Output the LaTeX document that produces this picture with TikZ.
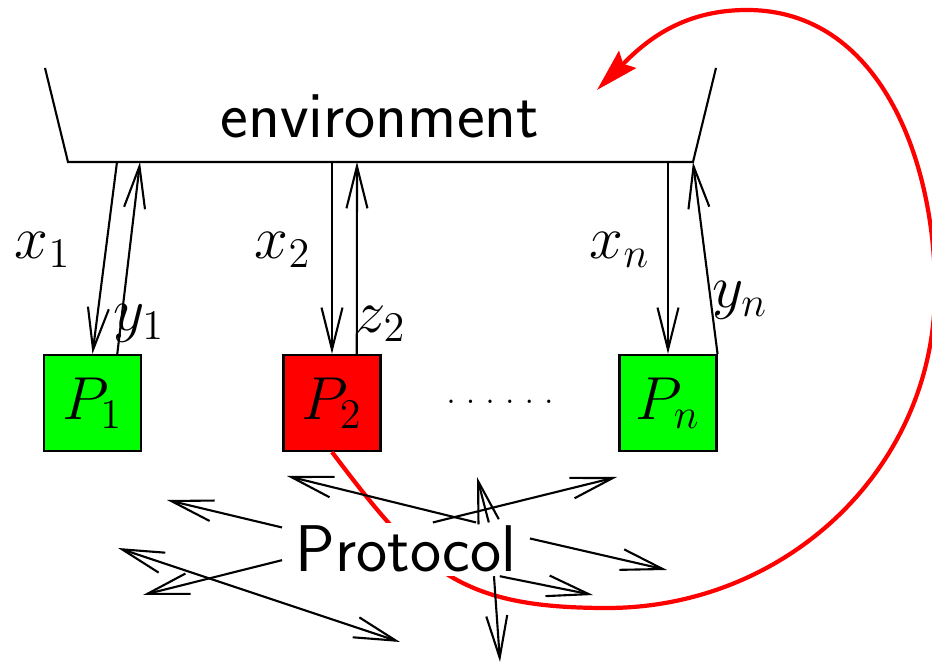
\documentclass[tikz,border=0pt]{standalone}
\usepackage{amsmath}
\usepackage{xcolor}
\usetikzlibrary{calc,arrows.meta}

\begin{document}
\begin{tikzpicture}[
  proc/.style={draw=black, semithick, minimum width=0.97cm, minimum height=0.96cm, inner sep=0pt, font=\LARGE},
  lbl/.style={font=\LARGE},
  word/.style={font=\fontsize{18.8pt}{22pt}\selectfont\sffamily},
  msg/.style={semithick, -{Straight Barb[length=4.2mm, width=2.1mm]}},
  twomsg/.style={semithick, {Straight Barb[length=4.2mm, width=2.1mm]}-{Straight Barb[length=4.2mm, width=2.1mm]}},
]
\useasboundingbox (0,0) rectangle (9.32,6.64);
% environment
\coordinate (envTL) at (0.45,5.96); \coordinate (envBL) at (0.68,5.02);
\coordinate (envBR) at (6.93,5.02); \coordinate (envTR) at (7.16,5.96);
\draw[semithick] (envTL) -- (envBL) -- (envBR) -- (envTR);
\node[word, anchor=base] (env) at (3.80,5.26) {environment};
\coordinate (e1out) at (1.17,5.02); \coordinate (e1in) at (1.40,5.02);
\coordinate (e2out) at (3.32,5.02); \coordinate (e2in) at (3.57,5.02);
\coordinate (enout) at (6.68,5.02);
% parties
\node[proc, fill=green] (P1) at (0.925,2.61) {$P_1$};
\node[proc, fill=red] (P2) at (3.32,2.61) {$P_2$};
\node[proc, fill=green] (Pn) at (6.68,2.61) {$P_n$};
\node[font=\small, anchor=base] (dots) at (5.00,2.60) {.\kern3pt.\kern3pt.\kern3pt.\kern3pt.\kern3pt.};
% inputs and outputs
\draw[msg] (e1out) -- (P1.north);
\draw[msg] ($(P1.north)!0.5!(P1.north east)$) -- (e1in);
\draw[msg] (e2out) -- (P2.north);
\draw[msg] ($(P2.north)!0.5!(P2.north east)$) -- (e2in);
\draw[msg] (enout) -- (Pn.north);
\draw[msg] (Pn.north east) -- (envBR);
\node[lbl] (lx1) at (0.43,4.14) {$x_1$};
\node[lbl] (ly1) at (1.39,3.41) {$y_1$};
\node[lbl] (lx2) at (2.83,4.14) {$x_2$};
\node[lbl] (lz2) at (3.81,3.40) {$z_2$};
\node[lbl] (lxn) at (6.20,4.14) {$x_n$};
\node[lbl] (lyn) at (7.40,3.64) {$y_n$};
% corruption loop
\coordinate (loopbot) at (6.07,0.56); \coordinate (loopright) at (9.35,3.74);
\coordinate (looptop) at (7.47,6.54); \coordinate (looptip) at (5.97,5.74);
\draw[red, line width=1.2pt, -{Stealth[length=4.3mm, width=2.4mm, inset=0.6mm]}] (P2.south)
  to[out=-53, in=180, looseness=1.2] (loopbot) to[out=0, in=-90] (loopright)
  to[out=90, in=0] (looptop) to[out=180, in=45] (looptip);
% protocol messages
\node[word, fill=white, inner xsep=0.13cm, inner ysep=0.03cm, anchor=base] (proto) at (4.06,0.92) {Protocol};
\coordinate (ma) at (1.67,1.64); \coordinate (mb) at (1.43,0.69);
\coordinate (mc1) at (1.18,1.16); \coordinate (mc2) at (4.00,0.22);
\coordinate (md) at (2.87,1.88); \coordinate (me) at (6.17,1.87);
\coordinate (mf) at (4.77,1.87); \coordinate (mg) at (6.67,0.94);
\coordinate (mh) at (5.93,0.69); \coordinate (mi) at (5.00,0.02);
\draw[msg] (proto.170) -- (ma);
\draw[msg] (proto.185) -- (mb);
\draw[twomsg] (mc1) -- (mc2);
\draw[msg] (proto.21) -- (md);
\draw[msg] (proto.45) -- (me);
\draw[msg] (proto.18) -- (mf);
\draw[msg] (proto.5) -- (mg);
\draw[msg] (proto.-16) -- (mh);
\draw[msg] (proto.-17) -- (mi);
\end{tikzpicture}
\end{document}
